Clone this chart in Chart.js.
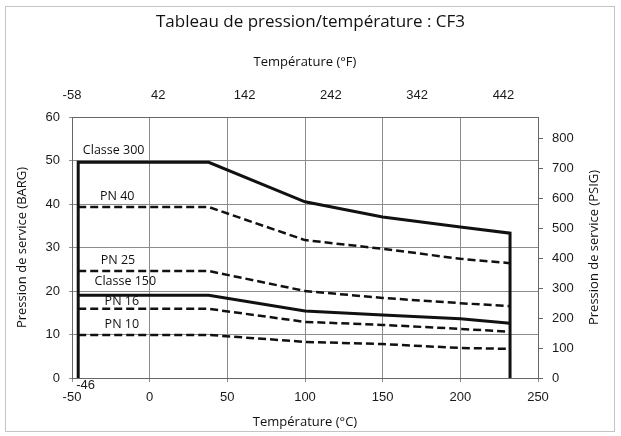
<!DOCTYPE html>
<html>
<head>
<meta charset="utf-8">
<script src="https://cdn.jsdelivr.net/npm/chart.js@4/dist/chart.umd.min.js"></script>
<style>
  html, body { margin: 0; padding: 0; background: #fff; }
  #wrap { width: 621px; height: 436px; position: relative; }
</style>
</head>
<body>
<div id="wrap"><canvas id="cf3Chart" width="621" height="436"></canvas></div>
<script>
// temperatures (°C) where the rating curves bend
const ratingTemps = [-46, 38, 100, 150, 200, 232];

// Classe 300 is closed by the two vertical limits at -46 and 232 °C
const classe300Temps = [-46, -46, 38, 100, 150, 200, 232, 232];
const classe300 = [0, 49.6, 49.6, 40.5, 37.0, 34.7, 33.3, 0];

const pn40 = [39.3, 39.3, 31.7, 29.7, 27.4, 26.4];
const pn25 = [24.6, 24.6, 20.0, 18.4, 17.2, 16.5];
const classe150 = [19.0, 19.0, 15.4, 14.5, 13.6, 12.6];
const pn16 = [15.9, 15.9, 12.9, 12.2, 11.3, 10.6];
const pn10 = [9.9, 9.9, 8.3, 7.8, 6.9, 6.7];

// tick labels
const fahrenheitTicks = [-58, 42, 142, 242, 342, 442];
const psigTicks = [0, 100, 200, 300, 400, 500, 600, 700, 800];

// curve names written on the chart, at (°C, bar)
const curveNames = ["Classe 300", "PN 40", "PN 25", "Classe 150", "PN 16", "PN 10"];
const nameTemps = [-43, -32, -31.5, -35.5, -29, -29];
const namePress = [52.4, 41.8, 27.1, 22.3, 17.5, 12.2];

const INK = "#111";
const GRID = "#8c8c8c";
const AXIS = "#666";
const TICK_FONT = { family: "'Liberation Sans', Arial, sans-serif", size: 13 };
const TEXT_FONT = "'Open Sans', 'Noto Sans', sans-serif";

function toPoints(xs, ys) {
  return ys.map((y, i) => ({ x: xs[i], y: y }));
}

function ratingSet(label, values, dashed) {
  return {
    label: label,
    data: toPoints(ratingTemps, values),
    borderColor: INK,
    borderWidth: dashed ? 2.5 : 3,
    borderDash: dashed ? [8, 4] : [],
    pointRadius: 0,
    tension: 0,
    fill: false
  };
}

//frame + names + -46 mark + right title (reads upward like the left one)
const extrasPlugin = {
  id: "extras",
  beforeDraw(chart) {
    const ctx = chart.ctx;
    ctx.save();
    ctx.fillStyle = "#fff";
    ctx.fillRect(0, 0, chart.width, chart.height);
    ctx.strokeStyle = "#c4c4c4";
    ctx.lineWidth = 1;
    ctx.strokeRect(5.5, 6.5, 609, 425);
    ctx.restore();
  },
  afterDraw(chart) {
    const ctx = chart.ctx;
    const xs = chart.scales.x;
    const ys = chart.scales.y;
    const area = chart.chartArea;
    ctx.save();
    ctx.fillStyle = INK;
    ctx.font = "12.5px " + TEXT_FONT;
    ctx.textAlign = "left";
    ctx.textBaseline = "middle";
    curveNames.forEach((name, i) => {
      ctx.fillText(name, xs.getPixelForValue(nameTemps[i]), ys.getPixelForValue(namePress[i]));
    });
    ctx.fillStyle = "#1a1a1a";
    ctx.font = "13px " + TICK_FONT.family;
    ctx.fillText("-46", xs.getPixelForValue(-46) - 2, ys.getPixelForValue(0) + 7);

    ctx.translate(594, (area.top + area.bottom) / 2);
    ctx.rotate(-Math.PI / 2);
    ctx.textAlign = "center";
    ctx.fillStyle = INK;
    ctx.font = "13px " + TEXT_FONT;
    ctx.fillText("Pression de service (PSIG)", 0, 0);
    ctx.restore();
  }
};

new Chart(document.getElementById("cf3Chart"), {
  type: "line",
  data: {
    datasets: [
      {
        label: "Classe 300",
        data: toPoints(classe300Temps, classe300),
        borderColor: INK,
        borderWidth: 3,
        pointRadius: 0,
        tension: 0,
        fill: false
      },
      ratingSet("PN 40", pn40, true),
      ratingSet("PN 25", pn25, true),
      ratingSet("Classe 150", classe150, false),
      ratingSet("PN 16", pn16, true),
      ratingSet("PN 10", pn10, true)
    ]
  },
  options: {
    responsive: false,
    animation: false,
    layout: { padding: 0 },
    plugins: {
      legend: { display: false },
      tooltip: { enabled: false },
      title: {
        display: true,
        text: "Tableau de pression/température : CF3",
        color: INK,
        font: { family: TEXT_FONT, size: 17, weight: "normal", lineHeight: 1.2 },
        padding: { top: 12, bottom: 0 }
      }
    },
    scales: {
      x: {
        type: "linear",
        position: "bottom",
        min: -50,
        max: 250,
        ticks: { stepSize: 50, color: "#1a1a1a", font: TICK_FONT, padding: 8, maxRotation: 0 },
        grid: { color: GRID, tickLength: 4, tickColor: GRID },
        border: { color: AXIS },
        title: {
          display: true,
          text: "Température (°C)",
          color: INK,
          font: { family: TEXT_FONT, size: 13, lineHeight: 1.2 },
          padding: { top: 0, bottom: 6 }
        },
        afterFit(scale) { scale.height = 58; }
      },
      x2: {
        type: "linear",
        position: "top",
        min: -58,
        max: 482,
        afterBuildTicks(scale) {
          scale.ticks = fahrenheitTicks.map(v => ({ value: v }));
        },
        ticks: { color: "#1a1a1a", font: TICK_FONT, padding: 14, maxRotation: 0 },
        grid: { display: false, drawTicks: false },
        border: { color: AXIS },
        title: {
          display: true,
          text: "Température (°F)",
          color: INK,
          font: { family: TEXT_FONT, size: 13, lineHeight: 1.2 },
          padding: { top: 21.8, bottom: 0 }
        },
        afterFit(scale) { scale.height = 84.6; }
      },
      y: {
        type: "linear",
        position: "left",
        min: 0,
        max: 60,
        ticks: { stepSize: 10, color: "#1a1a1a", font: TICK_FONT, padding: 9 },
        grid: { color: GRID, tickLength: 3, tickColor: GRID },
        border: { color: AXIS },
        title: {
          display: true,
          text: "Pression de service (BARG)",
          color: INK,
          font: { family: TEXT_FONT, size: 13, lineHeight: 1.2 },
          padding: { top: 14, bottom: 0 }
        },
        afterFit(scale) { scale.width = 72; }
      },
      y2: {
        type: "linear",
        position: "right",
        min: 0,
        max: 870,
        afterBuildTicks(scale) {
          scale.ticks = psigTicks.map(v => ({ value: v }));
        },
        ticks: { color: "#1a1a1a", font: TICK_FONT, padding: 9 },
        grid: { display: true, drawOnChartArea: false, tickLength: 5, tickColor: AXIS },
        border: { color: AXIS },
        title: { display: false },
        afterFit(scale) { scale.width = 83; }
      }
    }
  },
  plugins: [extrasPlugin]
});
</script>
</body>
</html>
